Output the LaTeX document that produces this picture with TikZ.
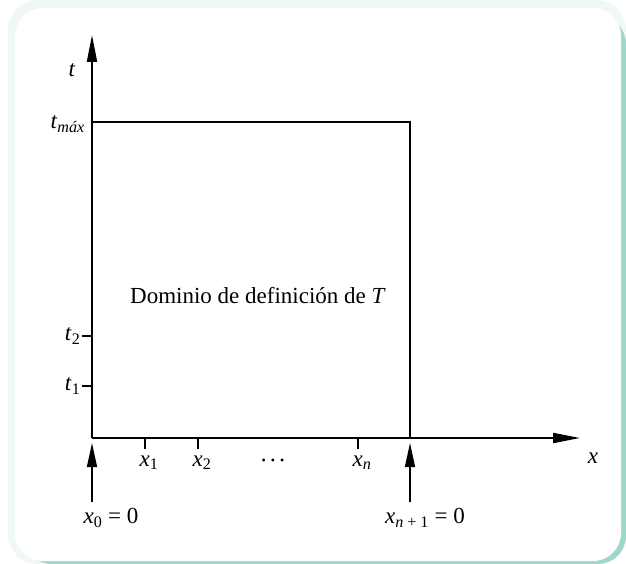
\documentclass[tikz,border=0pt]{standalone}
\usepackage{fontspec}
\setmainfont{Liberation Serif}
\usetikzlibrary{arrows.meta}
\definecolor{mintback}{HTML}{F0F8F5}
\definecolor{panelshade}{HTML}{9ED8CA}
\newcommand{\var}[2]{\textit{#1}\textsubscript{#2}}
\tikzset{
    axis/.style={line width=2pt, -{Triangle[length=27pt, width=10pt]}},
    border/.style={line width=1.6pt},
    tickmark/.style={line width=1.2pt},
    marker/.style={line width=1.4pt, -{Triangle[length=24pt, width=10pt]}},
    lab/.style={font=\fontsize{23}{26}\selectfont, inner sep=1pt},
}

\begin{document}
\begin{tikzpicture}[x=1pt, y=-1pt]

    \useasboundingbox (0,0) rectangle (626,564);
    % panel
    \fill[white] (0,0) rectangle (626,564);
    \fill[mintback, rounded corners=30pt] (8,0) rectangle (626,564);
    \fill[panelshade, rounded corners=28pt] (24,16) rectangle (626,564);
    \fill[white, rounded corners=28pt] (15,8) rectangle (621,561);

    % axes and domain
    \coordinate (origin) at (92,438);
    \coordinate (ttop) at (92,35);
    \coordinate (xend) at (580,438);
    \coordinate (corner) at (410,122);
    \coordinate (tcorner) at (92,122);
    \coordinate (xcorner) at (410,438);
    \draw[axis] (origin) -- (ttop);
    \draw[axis] (origin) -- (xend);
    \draw[border] (tcorner) -- (corner) -- (xcorner);

    \node[lab] (tlabel) at (72,70) {\textit{t}};
    \node[lab] (xlabel) at (593,458) {\textit{x}};
    \node[lab, anchor=east] (tmax) at (86,124) {\var{t}{\textit{máx}}};
    \node[lab] (domain) at (258,296) {Dominio de definición de \textit{T}};

    % t ticks
    \coordinate (t2) at (92,336);
    \coordinate (t1) at (92,386);
    \draw[tickmark] (t2) -- ++(-10,0) node[lab, anchor=east] (t2label) {\var{t}{2}};
    \draw[tickmark] (t1) -- ++(-10,0) node[lab, anchor=east] (t1label) {\var{t}{1}};

    % x ticks
    \foreach \name/\xpos/\sub in {x1/145/1, x2/198/2, xn/358/\textit{n}} {
        \coordinate (\name) at (\xpos,438);
        \draw[tickmark] (\name) -- ++(0,11) node[lab, anchor=north, xshift=4pt, yshift=-5pt] (\name label) {\var{x}{\sub}};
    }
    \node[font=\fontsize{12}{12}\selectfont, inner sep=0pt] (dots) at (273,462)
        {\textbullet\hspace{5pt}\textbullet\hspace{5pt}\textbullet};

    % boundary markers
    \coordinate (leftfoot) at (92,502);
    \coordinate (rightfoot) at (410,502);
    \draw[marker] (leftfoot) -- (92,443);
    \draw[marker] (rightfoot) -- (410,443);
    \node[lab] (x0) at (111,518) {\var{x}{0} = 0};
    \node[lab] (xn1) at (425,518) {\var{x}{\textit{n} + 1} = 0};

\end{tikzpicture}
\end{document}
